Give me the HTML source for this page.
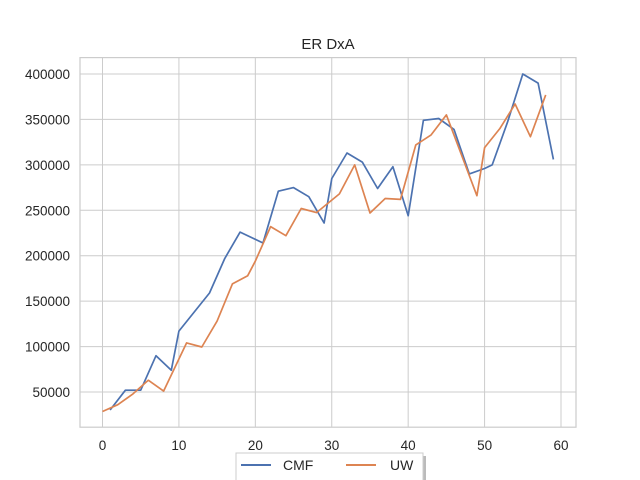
<!DOCTYPE html>
<html><head><meta charset="utf-8"><style>
body{margin:0;background:#fff;}
svg{display:block;font-family:"Liberation Sans","DejaVu Sans",sans-serif;}
</style></head><body>
<svg id="chart" width="640" height="480" viewBox="0 0 640 480">
<rect width="640" height="480" fill="#fff"/>
<g id="grid"></g>
<rect x="80" y="57.6" width="496" height="369.6" fill="none" stroke="#ccc" stroke-width="1.2"/>
<g id="ticks" font-size="13.5" fill="#262626"></g>
<g id="series"></g>
<text x="328" y="49" text-anchor="middle" font-size="15" fill="#262626">ER DxA</text>
<g>
<rect x="239" y="456" width="187" height="28" fill="#bbb"/>
<rect x="236" y="453" width="187" height="28" fill="#fff" stroke="#ccc"/>
<line x1="241" y1="465" x2="271" y2="465" stroke="#4c72b0" stroke-width="2"/>
<text x="283" y="470" font-size="14" fill="#262626">CMF</text>
<line x1="346" y1="465" x2="376" y2="465" stroke="#dd8452" stroke-width="2"/>
<text x="390" y="470" font-size="14" fill="#262626">UW</text>
</g>
</svg>
<script>
const xTicks=[0,10,20,30,40,50,60];
const yTicks=[50000,100000,150000,200000,250000,300000,350000,400000];
const cmfX=[1,3,5,7,9,10,14,16,18,21,23,25,27,29,30,32,34,36,38,40,42,44,46,48,50,51,53,55,57,59];
const cmfY=[30200,52000,52000,90000,74000,117000,159000,197000,226000,214000,271000,275000,265000,236000,285000,313000,303000,274000,298000,244000,349000,351000,339000,290000,296000,300000,347000,400000,390000,306000];
const uwX=[0,2,4,6,8,11,13,15,17,19,20,22,24,26,28,31,33,35,37,39,41,43,45,49,50,52,54,56,58];
const uwY=[28500,36000,48000,63000,51000,104000,99500,128000,169000,178000,194000,232000,222000,252000,247500,268000,300000,247000,263000,262000,322000,333000,355000,266000,319000,340000,367000,331000,377000];
const NS="http://www.w3.org/2000/svg";
function sx(v){return 102.5+v*(561-102.5)/60;}
function sy(v){return 392-(v-50000)*318/350000;}
const grid=document.getElementById('grid'),ticks=document.getElementById('ticks'),series=document.getElementById('series');
function mk(tag,attrs,parent){const e=document.createElementNS(NS,tag);for(const k in attrs)e.setAttribute(k,attrs[k]);parent.appendChild(e);return e;}
xTicks.forEach(t=>{
  const l=mk('line',{x1:sx(t),x2:sx(t),y1:57.6,y2:427.2,stroke:'#ccc','stroke-width':1},grid);
  
  
  const tx=mk('text',{x:sx(t),y:450,'text-anchor':'middle'},ticks);
  tx.textContent=t;
  
  
});
yTicks.forEach(t=>{
  const l=mk('line',{x1:80,x2:576,y1:sy(t),y2:sy(t),stroke:'#ccc','stroke-width':1},grid);
  
  
  const tx=mk('text',{x:70,y:sy(t)+5,'text-anchor':'end'},ticks);
  tx.textContent=t;
  
  
});
function line(xs,ys,color,name){
  const pts=xs.map((x,i)=>sx(x).toFixed(1)+','+sy(ys[i]).toFixed(1)).join(' ');
  const p=mk('polyline',{points:pts,fill:'none',stroke:color,'stroke-width':1.7,'stroke-linejoin':'round'},series);
  
  
}
line(cmfX,cmfY,'#4c72b0','cmf-line');
line(uwX,uwY,'#dd8452','uw-line');
</script>
</body></html>
